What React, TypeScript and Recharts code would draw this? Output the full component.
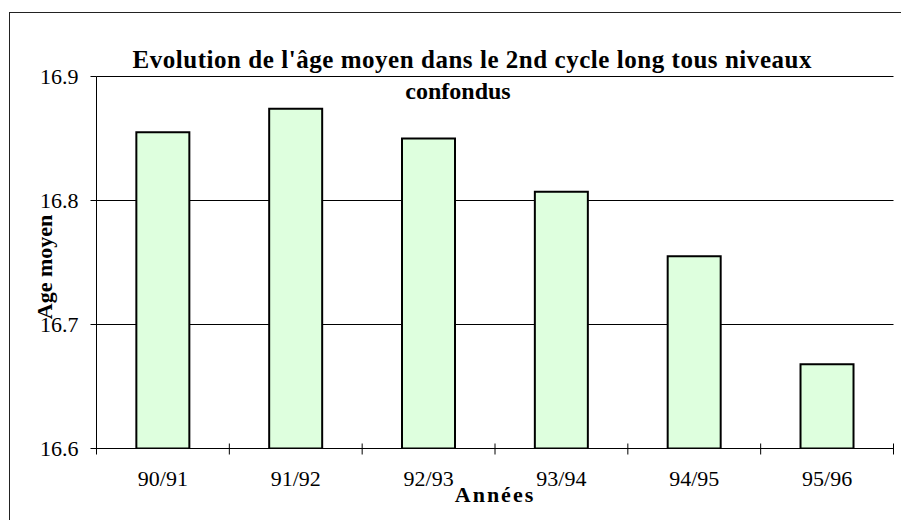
import React from 'react';
import { BarChart, Bar, XAxis, YAxis, CartesianGrid } from 'recharts';

const years = ['90/91', '91/92', '92/93', '93/94', '94/95', '95/96'];
const ageMoyen = [16.855, 16.874, 16.85, 16.807, 16.755, 16.668];
const yTicks = [16.6, 16.7, 16.8, 16.9];

const W = 901;
const H = 520;
const xAxisH = 60;
const margin = { top: 76.5, right: 7.5, bottom: 11.5, left: 0 };
const yAxisW = 96.5;
const band = (W - margin.left - margin.right - yAxisW) / years.length;
const serif = "'Liberation Serif', Tinos, 'Times New Roman', 'DejaVu Serif', serif";

const data = years.map((annee, i) => ({ annee, age: ageMoyen[i] }));

const YearTick = (props: any) => {
  const { x, y, payload, index } = props;
  return (
    <g>
      {index === 0 && (
        <line x1={x - band / 2} x2={x - band / 2} y1={y} y2={y + 6} stroke="#000" />
      )}
      <line x1={x + band / 2} x2={x + band / 2} y1={y - 5} y2={y + 6} stroke="#000" />
      <text x={x} y={y + 37} textAnchor="middle" fontSize={22} fontFamily={serif} fill="#000">
        {payload.value}
      </text>
    </g>
  );
};

const App: React.FC = () => {
  return (
    <div style={{ position: 'absolute', left: 0, top: 0, width: W, height: H, background: '#fff' }}>
      <BarChart width={W} height={H} data={data} margin={margin} barCategoryGap="30%">
        <CartesianGrid vertical={false} stroke="#000" />
        <XAxis
          dataKey="annee"
          height={xAxisH}
          tickSize={0}
          tickMargin={0}
          tickLine={false}
          axisLine={{ stroke: '#000' }}
          tick={(p: any) => <YearTick {...p} />}
          interval={0}
        />
        <XAxis xAxisId="top" dataKey="annee" orientation="top" height={0} tick={false} tickLine={false} axisLine={{ stroke: '#888' }} />
        <YAxis
          domain={[16.6, 16.9]}
          ticks={yTicks}
          width={yAxisW}
          tickSize={6}
          tickMargin={12}
          tickFormatter={(v: number) => v.toFixed(1)}
          tick={{ fill: '#000', fontSize: 22, fontFamily: serif }}
          tickLine={{ stroke: '#000' }}
          axisLine={{ stroke: '#000' }}
          allowDataOverflow
        />
        <YAxis yAxisId="right" orientation="right" domain={[16.6, 16.9]} width={0} tick={false} tickLine={false} axisLine={{ stroke: '#888' }} />
        <Bar dataKey="age" fill="#DEFFDE" stroke="#000" strokeWidth={2} isAnimationActive={false} />
      </BarChart>
      <svg width={W} height={H} style={{ position: 'absolute', left: 0, top: 0, pointerEvents: 'none' }}>
        <line x1={9.5} x2={9.5} y1={12} y2={H} stroke="#222" />
        <line x1={9} x2={W} y1={12.5} y2={12.5} stroke="#222" />
        <text x={472} y={68} textAnchor="middle" fontSize={25} fontWeight="bold" fontFamily={serif} fill="#000" textLength={679} lengthAdjust="spacing">
          Evolution de l'âge moyen dans le 2nd cycle long tous niveaux
        </text>
        <text x={458} y={99} textAnchor="middle" fontSize={24} fontWeight="bold" fontFamily={serif} fill="#000">
          confondus
        </text>
        <text x={495} y={502} textAnchor="middle" fontSize={22} fontWeight="bold" letterSpacing={2} fontFamily={serif} fill="#000">
          Années
        </text>
        <text x={52} y={267} textAnchor="middle" fontSize={22} fontWeight="bold" fontFamily={serif} fill="#000" transform="rotate(-90 52 267)">
          Age moyen
        </text>
      </svg>
    </div>
  );
};

export default App;
